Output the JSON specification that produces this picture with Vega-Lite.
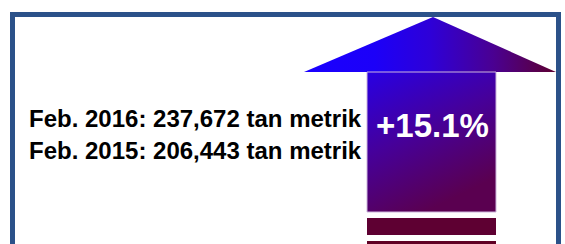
{
  "$schema": "https://vega.github.io/schema/vega-lite/v6.json",
  "width": 565,
  "height": 244,
  "padding": 0,
  "autosize": "none",
  "background": "white",
  "config": {"view": {"stroke": null}},
  "datasets": {
    "border": [{"x": 12.5, "x2": 558.5, "y": 14.5, "y2": 260}],
    "head": [
      {"x": 304, "y": 72, "y2": 72},
      {"x": 433, "y": 17, "y2": 72},
      {"x": 556, "y": 72, "y2": 72}
    ],
    "shaft": [{"x": 367, "x2": 496, "y": 72, "y2": 212}],
    "bars": [
      {"x": 367, "x2": 496, "y": 218, "y2": 235, "c": "a"},
      {"x": 367, "x2": 496, "y": 241, "y2": 260, "c": "b"}
    ],
    "labels": [
      {"x": 29, "y": 127, "t": "Feb. 2016: 237,672 tan metrik"},
      {"x": 29, "y": 159, "t": "Feb. 2015: 206,443 tan metrik"}
    ],
    "pct": [{"x": 432.5, "y": 137, "t": "+15.1%"}]
  },
  "layer": [
    {
      "data": {"name": "border"},
      "mark": {"type": "rect", "fill": null, "stroke": "#2b5189", "strokeWidth": 5, "clip": false},
      "encoding": {
        "x": {"field": "x", "type": "quantitative", "scale": {"domain": [0, 565], "nice": false, "zero": false}, "axis": null},
        "x2": {"field": "x2"},
        "y": {"field": "y", "type": "quantitative", "scale": {"domain": [0, 244], "reverse": true, "nice": false, "zero": false}, "axis": null},
        "y2": {"field": "y2"}
      }
    },
    {
      "data": {"name": "head"},
      "mark": {
        "type": "area",
        "color": {
          "gradient": "linear",
          "x1": 0, "y1": 0, "x2": 1, "y2": 0,
          "stops": [
            {"offset": 0, "color": "#1a00ff"},
            {"offset": 0.28, "color": "#1c00f8"},
            {"offset": 0.5, "color": "#2e00d8"},
            {"offset": 0.75, "color": "#4a0092"},
            {"offset": 1, "color": "#5e0030"}
          ]
        }
      },
      "encoding": {
        "x": {"field": "x", "type": "quantitative"},
        "y": {"field": "y", "type": "quantitative"},
        "y2": {"field": "y2"}
      }
    },
    {
      "data": {"name": "shaft"},
      "mark": {
        "type": "rect",
        "stroke": "#cdb6dc",
        "strokeWidth": 1,
        "color": {
          "gradient": "linear",
          "x1": 0, "y1": 0, "x2": 0.45, "y2": 1,
          "stops": [
            {"offset": 0, "color": "#2800e4"},
            {"offset": 0.5, "color": "#46009a"},
            {"offset": 1, "color": "#5a0050"}
          ]
        }
      },
      "encoding": {
        "x": {"field": "x", "type": "quantitative"},
        "x2": {"field": "x2"},
        "y": {"field": "y", "type": "quantitative"},
        "y2": {"field": "y2"}
      }
    },
    {
      "data": {"name": "bars"},
      "mark": {"type": "rect"},
      "encoding": {
        "x": {"field": "x", "type": "quantitative"},
        "x2": {"field": "x2"},
        "y": {"field": "y", "type": "quantitative"},
        "y2": {"field": "y2"},
        "color": {"field": "c", "type": "nominal", "scale": {"domain": ["a", "b"], "range": ["#5e0032", "#600024"]}, "legend": null}
      }
    },
    {
      "data": {"name": "labels"},
      "mark": {"type": "text", "align": "left", "baseline": "alphabetic", "font": "Liberation Sans", "fontWeight": "bold", "fontSize": 24, "color": "#000000"},
      "encoding": {
        "x": {"field": "x", "type": "quantitative"},
        "y": {"field": "y", "type": "quantitative"},
        "text": {"field": "t"}
      }
    },
    {
      "data": {"name": "pct"},
      "mark": {"type": "text", "align": "center", "baseline": "alphabetic", "font": "Liberation Sans", "fontWeight": "bold", "fontSize": 33, "color": "#ffffff"},
      "encoding": {
        "x": {"field": "x", "type": "quantitative"},
        "y": {"field": "y", "type": "quantitative"},
        "text": {"field": "t"}
      }
    }
  ]
}
